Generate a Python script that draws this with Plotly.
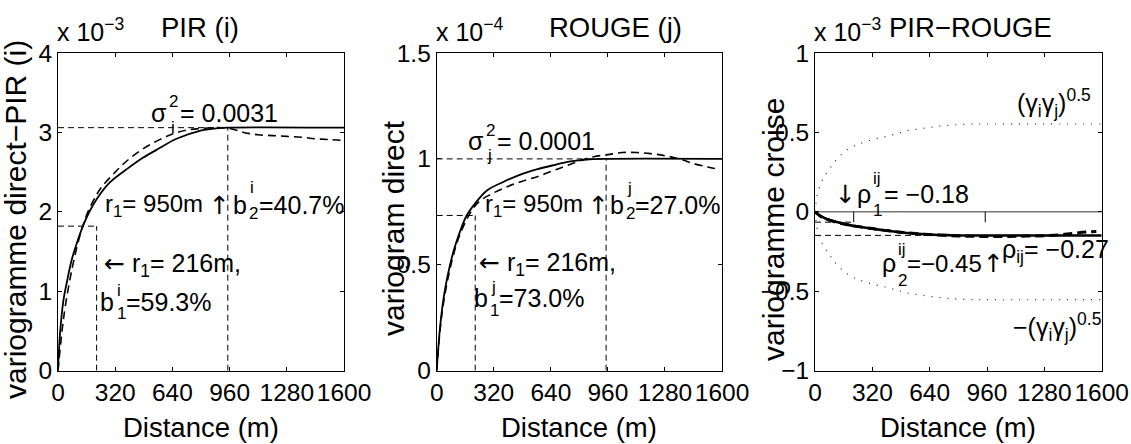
import plotly.graph_objects as go

W, H = 1131, 444
FONT = "Liberation Sans, Arial, Helvetica, sans-serif"

# distance ticks
dist_ticks = [0, 320, 640, 960, 1280, 1600]

# PIR (i) - direct variogram (x 1e-3)
pir_model_h = [0, 11, 30, 50, 76, 100, 141, 180, 216, 290, 380, 460, 551, 663, 793, 886, 950, 1600]
pir_model_g = [0, 0.46, 0.88, 1.12, 1.39, 1.57, 1.83, 2.02, 2.16, 2.37, 2.53, 2.66, 2.78, 2.92, 3.02, 3.05, 3.06, 3.06]
pir_exp_h = [0, 20, 40, 80, 120, 160, 200, 240, 320, 400, 480, 560, 640, 720, 800, 880, 960,
             1040, 1120, 1200, 1280, 1360, 1440, 1520, 1600]
pir_exp_g = [0, 0.45, 0.8, 1.3, 1.68, 1.96, 2.15, 2.3, 2.5, 2.67, 2.8, 2.9, 2.98, 3.03, 3.05, 3.06, 3.05,
             3.0, 2.97, 2.96, 2.95, 2.94, 2.92, 2.91, 2.9]
pir_sill = 3.06
pir_b1 = 1.82

# ROUGE (j) - direct variogram (x 1e-4)
rouge_model_h = [0, 15, 30, 50, 75, 100, 141, 168, 216, 280, 370, 466, 560, 653, 750, 840, 950, 1600]
rouge_model_g = [0, 0.17, 0.29, 0.4, 0.5, 0.58, 0.68, 0.733, 0.79, 0.85, 0.89, 0.925, 0.95, 0.97, 0.988, 0.997, 1.0, 1.0]
rouge_exp_h = [0, 20, 40, 80, 120, 160, 200, 240, 320, 400, 480, 560, 640, 720, 800, 880, 960,
               1040, 1120, 1200, 1280, 1360, 1440, 1520, 1560]
rouge_exp_g = [0, 0.2, 0.33, 0.5, 0.62, 0.7, 0.76, 0.8, 0.84, 0.87, 0.895, 0.915, 0.94, 0.965, 0.99, 1.01, 1.02,
               1.03, 1.03, 1.025, 1.015, 1.0, 0.978, 0.962, 0.955]
rouge_sill = 1.0
rouge_b1 = 0.733

# PIR-ROUGE - cross variogram (x 1e-3)
cross_model_h = [0, 20, 40, 65, 100, 150, 200, 250, 300, 383, 480, 570, 660, 757, 850, 950, 1600]
cross_model_g = [0, -0.018, -0.032, -0.045, -0.058, -0.072, -0.085, -0.094, -0.103, -0.116, -0.13, -0.138,
                 -0.144, -0.147, -0.149, -0.149, -0.149]
cross_exp_h = [0, 40, 80, 120, 160, 200, 240, 320, 400, 480, 560, 640, 720, 800, 880, 960, 1040, 1120,
               1200, 1280, 1360, 1440, 1520, 1570]
cross_exp_g = [0, -0.035, -0.052, -0.066, -0.076, -0.085, -0.093, -0.105, -0.118, -0.128, -0.137, -0.143,
               -0.148, -0.152, -0.154, -0.155, -0.155, -0.154, -0.152, -0.15, -0.145, -0.135, -0.127, -0.124]
env_h = [0, 15, 30, 50, 75, 100, 141, 200, 252, 320, 382, 450, 512, 580, 661, 750, 848, 950, 1600]
env_upper = [0, 0.12, 0.17, 0.22, 0.26, 0.3, 0.355, 0.405, 0.43, 0.455, 0.47, 0.49, 0.51, 0.522, 0.535,
             0.545, 0.552, 0.553, 0.553]
env_lower = [0, -0.12, -0.17, -0.22, -0.26, -0.3, -0.355, -0.405, -0.43, -0.455, -0.47, -0.49, -0.51,
             -0.522, -0.535, -0.545, -0.552, -0.553, -0.553]
cross_sill = -0.148
cross_b1 = -0.065
r_short, r_long = 216, 950


def px(x):
    return x / W


def py(y):
    return 1 - y / H


fig = go.Figure()

helper = dict(color="black", width=1, dash="6px,4px")


def add_line(x, y, n, line, shape="linear"):
    fig.add_trace(go.Scatter(x=x, y=y, mode="lines", xaxis="x" + n, yaxis="y" + n,
                             line=dict(shape=shape, **line), showlegend=False, hoverinfo="skip"))


# panel 1
add_line([0, r_long], [pir_sill, pir_sill], "", helper)
add_line([0, r_short], [pir_b1, pir_b1], "", helper)
add_line([r_short, r_short], [0, pir_b1], "", helper)
add_line([r_long, r_long], [0, pir_sill], "", helper)
add_line(pir_exp_h, pir_exp_g, "", dict(color="black", width=1.6, dash="8px,5px"), "spline")
add_line(pir_model_h, pir_model_g, "", dict(color="black", width=1.8), "spline")

# panel 2
add_line([0, r_long], [rouge_sill, rouge_sill], "2", helper)
add_line([0, r_short], [rouge_b1, rouge_b1], "2", helper)
add_line([r_short, r_short], [0, rouge_b1], "2", helper)
add_line([r_long, r_long], [0, rouge_sill], "2", helper)
add_line(rouge_exp_h, rouge_exp_g, "2", dict(color="black", width=1.6, dash="8px,5px"), "spline")
add_line(rouge_model_h, rouge_model_g, "2", dict(color="black", width=1.8), "spline")

# panel 3
add_line([0, 1600], [0, 0], "3", dict(color="#333333", width=1))
add_line([0, 1600], [cross_sill, cross_sill], "3", helper)
add_line([0, r_short], [cross_b1, cross_b1], "3", helper)
add_line([r_short, r_short], [0, cross_b1], "3", dict(color="black", width=1))
add_line([r_long, r_long], [0, cross_b1], "3", dict(color="black", width=1))
add_line(env_h, env_upper, "3", dict(color="#222222", width=1.2, dash="1px,7px"), "spline")
add_line(env_h, env_lower, "3", dict(color="#222222", width=1.2, dash="1px,7px"), "spline")
add_line(cross_exp_h, cross_exp_g, "3", dict(color="black", width=3, dash="9px,5px"), "spline")
add_line(cross_model_h, cross_model_g, "3", dict(color="black", width=2.6), "spline")

ydom = [py(370.7), py(53)]
xdoms = [[px(58), px(344)], [px(436.7), px(722)], [px(815), px(1101.7)]]
yranges = [[0, 4], [0, 1.5], [-1, 1]]
yticks = [[0, 1, 2, 3, 4], [0, 0.5, 1, 1.5], [-1, -0.5, 0, 0.5, 1]]

axis_common = dict(showline=True, linecolor="black", linewidth=1, mirror="ticks", ticks="inside",
                   ticklen=4, tickcolor="black", showgrid=False, zeroline=False, tickangle=0,
                   automargin=False, tickfont=dict(family=FONT, size=24.5, color="black"))

layout = dict(width=W, height=H, margin=dict(l=0, r=0, t=0, b=0, pad=0, autoexpand=False),
              paper_bgcolor="white", plot_bgcolor="white", showlegend=False,
              font=dict(family=FONT, color="black"))
for i in range(3):
    n = "" if i == 0 else str(i + 1)
    layout["xaxis" + n] = dict(domain=xdoms[i], range=[0, 1600], tickvals=dist_ticks,
                               anchor="y" + n, **axis_common)
    layout["yaxis" + n] = dict(domain=ydom, range=yranges[i], tickvals=yticks[i],
                               anchor="x" + n, **axis_common)
fig.update_layout(**layout)

ARROW = '<span style="font-family:DejaVu Sans">%s</span>'
up = ARROW % "\u2191"
down = ARROW % "\u2193"
left = ARROW % "\u2190"


def note(text, x, y, size=25, xanchor="left", yanchor="middle", angle=0):
    fig.add_annotation(text=text, x=px(x), y=py(y), xref="paper", yref="paper", showarrow=False,
                       xanchor=xanchor, yanchor=yanchor, textangle=angle,
                       align=xanchor if xanchor != "center" else "center", borderpad=0,
                       font=dict(family=FONT, size=size, color="black"))


def script(text, x, y):
    note(text, x, y, 17, "left")


# titles and exponents
note("PIR (i)", 200, 27, 27.5, "center")
note("ROUGE (j)", 615, 27, 27.5, "center")
note("PIR\u2212ROUGE", 970, 27, 27.5, "center")
note("x 10<sup>\u22123</sup>", 56, 30, 25)
note("x 10<sup>\u22124</sup>", 435, 30, 25)
note("x 10<sup>\u22123</sup>", 813, 30, 25)

# axis titles
for cx in [201, 579, 958]:
    note("Distance (m)", cx, 427, 27.5, "center")
note("variogramme direct\u2212PIR (i)", 15, 220, 30, "center", angle=-90)
note("variogram direct", 393, 228, 30, "center", angle=-90)
note("variogramme croise", 773, 230, 30, "center", angle=-90)

# panel 1 notes
note("\u03c3", 168, 113, 25, "right")
script("2", 168, 101)
script("i", 170, 128)
note("= 0.0031", 179, 113)
note("r<sub>1</sub>= 950m", 104, 205, 24)
note(up, 219, 205, 25, "center")
note("b", 248, 205, 25, "right")
script("i", 249, 187)
script("2", 248, 213)
note("=40.7%", 258, 205)
note(left + " r<sub>1</sub>= 216m,", 103, 265)
note("b", 115, 302, 25, "right")
script("i", 116, 290)
script("1", 116, 313)
note("=59.3%", 125, 302)

# panel 2 notes
note("\u03c3", 485, 141, 25, "right")
script("2", 485, 130)
script("j", 486, 155)
note("= 0.0001", 496, 141)
note("r<sub>1</sub>= 950m", 484, 205, 24)
note(up, 598, 205, 25, "center")
note("b", 625, 205, 25, "right")
script("j", 626, 188)
script("2", 625, 213)
note("=27.0%", 634, 205)
note(left + " r<sub>1</sub>= 216m,", 478, 264)
note("b", 489, 298, 25, "right")
script("j", 490, 287)
script("1", 489, 310)
note("=73.0%", 498, 298)

# panel 3 notes
note("(\u03b3<sub>i</sub>\u03b3<sub>j</sub>)<sup>0.5</sup>", 1092, 103, 25, "right")
note(down, 845, 194, 25, "center")
note("\u03c1", 872, 194, 25, "right")
script("ij", 872, 178)
script("1", 872, 210)
note("= \u22120.18", 883, 194)
note("\u03c1", 897, 263, 25, "right")
script("ij", 897, 249)
script("2", 897, 280)
note("=\u22120.45", 906, 263, 24)
note(up, 993, 263, 25, "center")
note("\u03c1<sub>ij</sub>= \u22120.27", 1001, 251, 25, "left")
note("\u2212(\u03b3<sub>i</sub>\u03b3<sub>j</sub>)<sup>0.5</sup>", 1102, 327, 25, "right")

fig.write_html("out.html", config={"displayModeBar": False},
               post_script="document.body.style.margin='0px';")
